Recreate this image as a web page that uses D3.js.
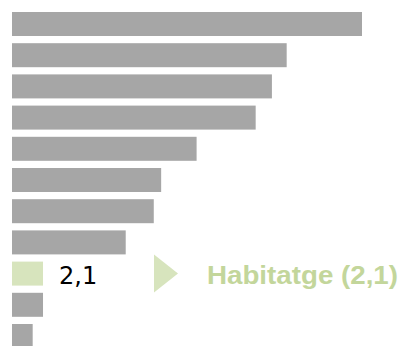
<!DOCTYPE html>
<html><head><meta charset="utf-8">
<script src="https://cdn.jsdelivr.net/npm/d3@7"></script>
<style>html,body{margin:0;padding:0;background:#fff;overflow:hidden}</style>
</head><body>
<svg id="c" width="403" height="346"></svg>
<script>
const categories = ["c1","c2","c3","c4","c5","c6","c7","c8","Habitatge","c10","c11"];
const values = [23.7, 18.6, 17.6, 16.5, 12.5, 10.1, 9.6, 7.7, 2.1, 2.1, 1.4];
const highlight = "Habitatge";
const highlightLabel = "2,1";
const calloutText = "Habitatge (2,1)";

const svg = d3.select("#c");
const x = d3.scaleLinear().domain([0, 23.7]).range([12, 362]);
const y = d3.scaleBand().domain(categories).range([12, 348]).paddingInner(0.2308).paddingOuter(0);

svg.selectAll("rect.bar").data(categories).join("rect")
  .attr("class","bar")
  .attr("x", x(0))
  .attr("y", d => y(d))
  .attr("width", (d,i) => x(values[i]) - x(0))
  .attr("height", y.bandwidth())
  .attr("fill", d => d === highlight ? "#d7e4bd" : "#a6a6a6");

const hi = categories.indexOf(highlight);
const cy = y(highlight) + y.bandwidth()/2;
svg.append("text")
  .attr("x", x(values[hi]) + 16)
  .attr("y", cy + 10)
  .attr("font-family", "DejaVu Sans, Verdana, sans-serif")
  .attr("font-size", 24)
  .attr("fill", "#000")
  .text(highlightLabel);

svg.append("path")
  .attr("d", `M154,${cy-19} L178,${cy} L154,${cy+19} Z`)
  .attr("fill", "#d7e4bd");

svg.append("text")
  .attr("x", 207)
  .attr("y", cy + 10)
  .attr("font-family", "Liberation Sans, Arial, sans-serif")
  .attr("font-weight", "bold")
  .attr("font-size", 26)
  .attr("textLength", 191)
  .attr("lengthAdjust", "spacingAndGlyphs")
  .attr("fill", "#c3d69b")
  .text(calloutText);
</script>
</body></html>
